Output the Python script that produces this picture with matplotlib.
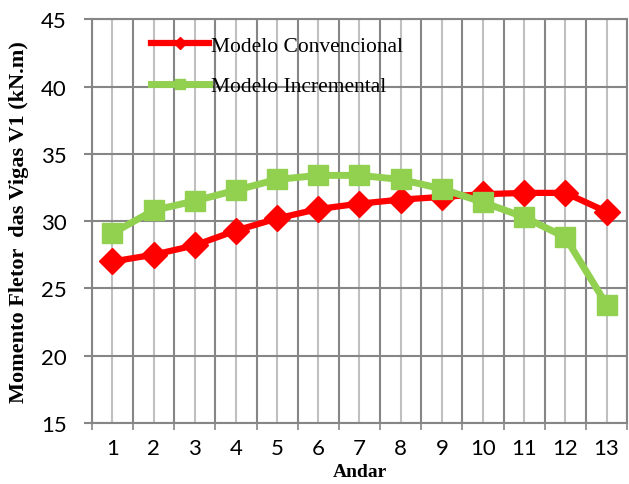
import matplotlib
matplotlib.use('Agg')
import matplotlib.pyplot as plt

andar = list(range(1, 14))
convencional = [27.0, 27.5, 28.2, 29.3, 30.2, 30.9, 31.3, 31.6, 31.8, 32.0, 32.1, 32.1, 30.7]
incremental = [29.1, 30.8, 31.5, 32.3, 33.1, 33.4, 33.4, 33.1, 32.4, 31.4, 30.3, 28.8, 23.8]

fig = plt.figure(figsize=(6.29, 4.85), dpi=100)
ax = fig.add_axes([0.146, 0.126, 0.851, 0.832])

ax.plot(andar, convencional, color='#FF0000', lw=4.5, marker='D', ms=13,
        label='Modelo Convencional', zorder=3)
ax.plot(andar, incremental, color='#92D050', lw=5, marker='s', ms=14,
        label='Modelo Incremental', zorder=4)

ax.set_xlim(0.5, 13.5)
ax.set_ylim(15, 45)
ax.set_yticks(range(15, 46, 5))
ax.set_xticks(andar)
ax.set_xticks([i + 0.5 for i in range(0, 14)], minor=True)

# light lines through the categories, dark ones between them
ax.grid(axis='x', which='major', color='#c0c0c0', lw=1.5)
ax.grid(axis='x', which='minor', color='#868686', lw=1.5)
ax.grid(axis='y', which='major', color='#868686', lw=1.5)
ax.set_axisbelow(True)

ax.tick_params(axis='x', which='major', length=0, pad=11, labelsize=16)
ax.tick_params(axis='x', which='minor', length=5, color='#868686', width=1.2)
ax.tick_params(axis='y', length=6, color='#868686', width=1.5, labelsize=16, pad=12)
for lab in ax.get_xticklabels() + ax.get_yticklabels():
    lab.set_fontfamily('Lato')

for s in ax.spines.values():
    s.set_color('#868686')
    s.set_linewidth(1.5)

ax.set_xlabel('Andar', fontfamily='Liberation Serif', fontweight='bold', fontsize=14)
ax.xaxis.set_label_coords(0.5, -0.121)
ax.set_ylabel('Momento Fletor  das Vigas V1 (kN.m)', fontfamily='Liberation Serif',
              fontweight='bold', fontsize=16)
ax.yaxis.set_label_coords(-0.136, 0.5)
ax.xaxis.label.set_va('center')
ax.yaxis.label.set_va('center')

leg = ax.legend(loc='upper left', bbox_to_anchor=(0.074, 1.008), frameon=False,
                prop={'family': 'Liberation Serif', 'size': 15.5}, handlelength=2.7,
                handletextpad=0.1, labelspacing=0.95, markerscale=0.5)

fig.savefig('out.png', dpi=100)
